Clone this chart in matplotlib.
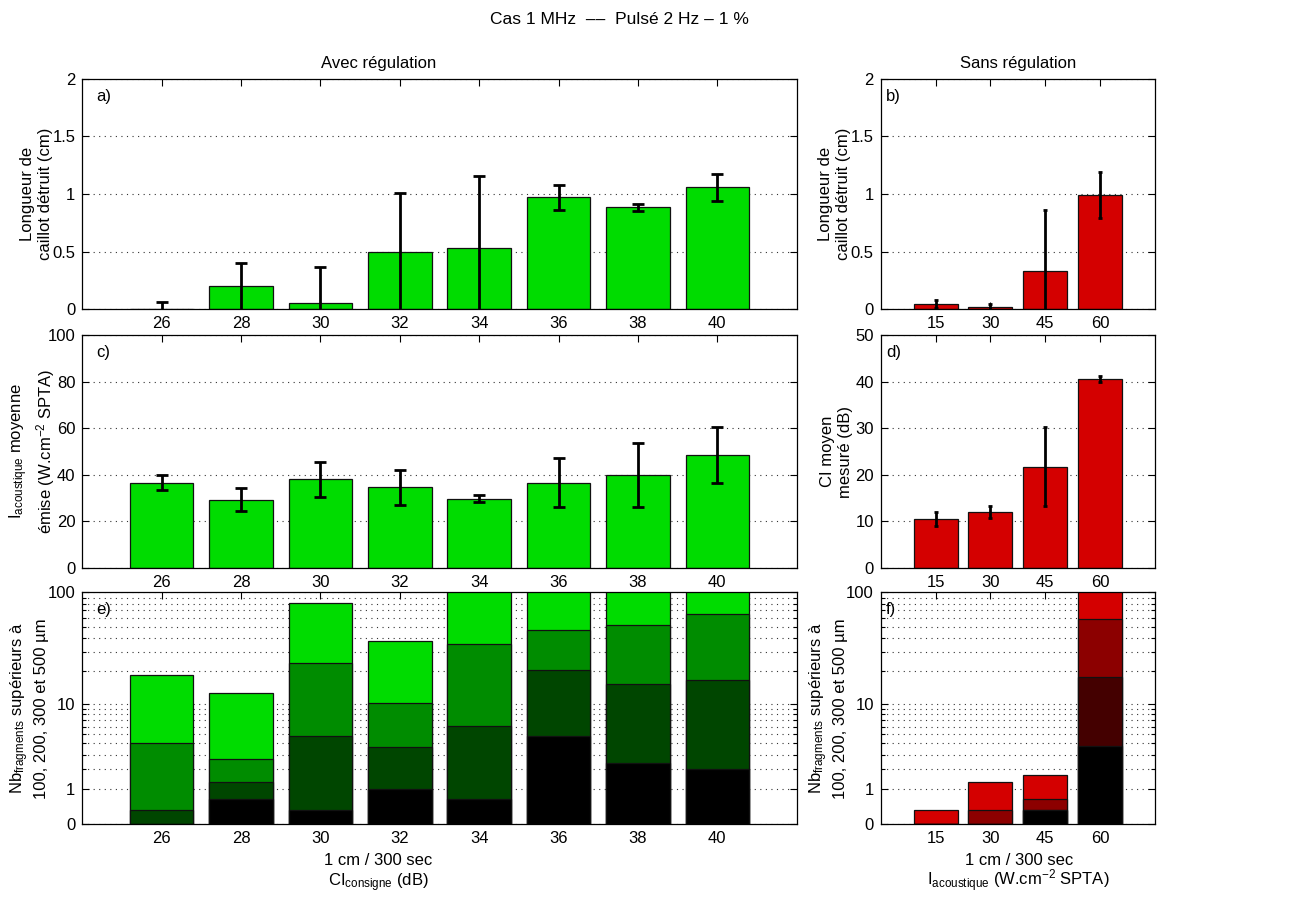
import numpy as np
import matplotlib
matplotlib.use("Agg")
import matplotlib.pyplot as plt
from matplotlib.ticker import FixedLocator, NullFormatter

plt.rcParams['font.family'] = ['Liberation Sans', 'DejaVu Sans']
plt.rcParams['font.size'] = 12
plt.rcParams['mathtext.fontset'] = 'custom'
plt.rcParams['mathtext.rm'] = 'Liberation Sans'
plt.rcParams['mathtext.it'] = 'Liberation Sans'

# --- data ---
ci_consigne = [26, 28, 30, 32, 34, 36, 38, 40]
i_acoustique = [15, 30, 45, 60]

# a) clot length, with regulation
long_avec = [0.0, 0.20, 0.057, 0.50, 0.53, 0.97, 0.885, 1.058]
long_avec_err = [0.06, 0.205, 0.31, 0.51, 0.63, 0.105, 0.03, 0.115]
# b) clot length, without regulation
long_sans = [0.049, 0.02, 0.332, 0.99]
long_sans_err = [0.035, 0.023, 0.527, 0.2]
# c) emitted acoustic intensity
iac_avec = [36.6, 29.3, 38.0, 34.6, 29.7, 36.6, 39.9, 48.6]
iac_avec_err = [3.1, 5.1, 7.6, 7.4, 1.5, 10.6, 13.9, 12.0]
# d) measured CI
ci_sans = [10.5, 11.9, 21.7, 40.6]
ci_sans_err = [1.5, 1.3, 8.5, 0.6]
# e) fragment counts > 100, 200, 300, 500 um
frag_avec_100 = [18.6, 12.7, 80.6, 37.6, 130, 130, 130, 130]
frag_avec_200 = [4.0, 2.64, 23.7, 10.25, 35.1, 46.4, 52.1, 64.6]
frag_avec_300 = [0.33, 1.34, 4.76, 3.69, 6.07, 20.7, 15.4, 16.6]
frag_avec_500 = [0.0, 0.67, 0.33, 1.0, 0.67, 4.8, 2.37, 2.0]
# f)
frag_sans_100 = [0.33, 1.34, 1.67, 130]
frag_sans_200 = [0.0, 0.33, 0.67, 58.4]
frag_sans_300 = [0.0, 0.0, 0.33, 17.9]
frag_sans_500 = [0.0, 0.0, 0.33, 3.73]

greens = ['#00dc00', '#008c00', '#004600', '#000000']
reds = ['#d40000', '#8c0000', '#440000', '#000000']

fig = plt.figure(figsize=(12.94, 9.0), dpi=100)

L = [0.0636, 0.5521]
R = [0.6806, 0.2120]
rows = [(0.6563, 0.2562), (0.3692, 0.2582), (0.0841, 0.2576)]

axes = {}
for r, (b, h) in enumerate(rows):
    axes[(r, 0)] = fig.add_axes([L[0], b, L[1], h])
    axes[(r, 1)] = fig.add_axes([R[0], b, R[1], h])


def style(ax, xt, xlim):
    ax.set_xlim(*xlim)
    ax.set_xticks(xt)
    ax.tick_params(direction='in', top=True, right=True, length=5, width=0.8,
                   labelsize=12, pad=5)
    ax.tick_params(which='minor', direction='in', right=True, length=3, width=0.8)
    ax.set_axisbelow(True)
    ax.yaxis.grid(True, which='major', linestyle=(0, (1, 4)), color='#333333', linewidth=0.8)
    for s in ax.spines.values():
        s.set_linewidth(0.9)
        s.set_zorder(5)


def letter(ax, t):
    ax.text(0.02, 0.925, t, transform=ax.transAxes, va='center', ha='left', fontsize=12)


def ylab(ax, text, xpos):
    ax.set_ylabel(text, linespacing=1.25)
    ax.yaxis.set_label_coords(xpos, 0.5)


# a)
ax = axes[(0, 0)]
ax.bar(ci_consigne, long_avec, width=1.6, color=greens[0], edgecolor='#111111', linewidth=0.9)
ax.errorbar(ci_consigne, long_avec, yerr=long_avec_err, fmt='none', ecolor='k',
            elinewidth=2, capsize=4, capthick=2)
style(ax, ci_consigne, (24, 42))
ax.set_ylim(0, 2)
ax.set_yticks([0, 0.5, 1, 1.5, 2])
ax.set_yticklabels(['0', '0.5', '1', '1.5', '2'])
ylab(ax, 'Longueur de\ncaillot détruit (cm)', -0.041)
ax.set_title('Avec régulation', fontsize=12, pad=8, x=0.4146)
letter(ax, 'a)')

# b)
ax = axes[(0, 1)]
ax.bar(i_acoustique, long_sans, width=12, color=reds[0], edgecolor='#111111', linewidth=0.9)
ax.errorbar(i_acoustique, long_sans, yerr=long_sans_err, fmt='none', ecolor='k',
            elinewidth=2, capsize=1.5, capthick=2)
style(ax, i_acoustique, (0, 75))
ax.set_ylim(0, 2)
ax.set_yticks([0, 0.5, 1, 1.5, 2])
ax.set_yticklabels(['0', '0.5', '1', '1.5', '2'])
ylab(ax, 'Longueur de\ncaillot détruit (cm)', -0.108)
ax.set_title('Sans régulation', fontsize=12, pad=8)
letter(ax, 'b)')

# c)
ax = axes[(1, 0)]
ax.bar(ci_consigne, iac_avec, width=1.6, color=greens[0], edgecolor='#111111', linewidth=0.9)
ax.errorbar(ci_consigne, iac_avec, yerr=iac_avec_err, fmt='none', ecolor='k',
            elinewidth=2, capsize=4, capthick=2)
style(ax, ci_consigne, (24, 42))
ax.set_ylim(0, 100)
ax.set_yticks([0, 20, 40, 60, 80, 100])
ylab(ax, 'I$_{\\mathrm{acoustique}}$ moyenne\némise (W.cm$^{-2}$ SPTA)', -0.035)
letter(ax, 'c)')

# d)
ax = axes[(1, 1)]
ax.bar(i_acoustique, ci_sans, width=12, color=reds[0], edgecolor='#111111', linewidth=0.9)
ax.errorbar(i_acoustique, ci_sans, yerr=ci_sans_err, fmt='none', ecolor='k',
            elinewidth=2, capsize=1.5, capthick=2)
style(ax, i_acoustique, (0, 75))
ax.set_ylim(0, 50)
ax.set_yticks([0, 10, 20, 30, 40, 50])
ylab(ax, 'CI moyen\nmesuré (dB)', -0.1)
letter(ax, 'd)')


def fwd(x):
    return np.log10(1 + np.clip(x, 0, None))


def inv(y):
    return 10 ** y - 1


minor = [2, 3, 4, 5, 6, 7, 8, 9, 20, 30, 40, 50, 60, 70, 80, 90]


def frag_axis(ax, xs, width, series, cols, xt, xlim, xpos):
    for vals, c in zip(series, cols):
        ax.bar(xs, vals, width=width, color=c, edgecolor='#111111', linewidth=0.9)
    ax.set_yscale('function', functions=(fwd, inv))
    style(ax, xt, xlim)
    ax.set_ylim(0, 100)
    ax.yaxis.set_major_locator(FixedLocator([0, 1, 10, 100]))
    ax.set_yticklabels(['0', '1', '10', '100'])
    ax.yaxis.set_minor_locator(FixedLocator(minor))
    ax.yaxis.set_minor_formatter(NullFormatter())
    ax.yaxis.grid(True, which='minor', linestyle=(0, (1, 4)), color='#333333', linewidth=0.8)
    ylab(ax, 'Nb$_{\\mathrm{fragments}}$ supérieurs à\n100, 200, 300 et 500 µm', xpos)


def two_line_xlabel(ax, xc, l1, l2):
    ax.text(xc, -0.176, l1, transform=ax.transAxes, ha='center', va='baseline', fontsize=12)
    ax.text(xc, -0.266, l2, transform=ax.transAxes, ha='center', va='baseline', fontsize=12)


# e)
ax = axes[(2, 0)]
frag_axis(ax, ci_consigne, 1.6,
          [frag_avec_100, frag_avec_200, frag_avec_300, frag_avec_500],
          greens, ci_consigne, (24, 42), -0.047)
two_line_xlabel(ax, 0.4146, '1 cm / 300 sec', 'CI$_{\\mathrm{consigne}}$ (dB)')
letter(ax, 'e)')

# f)
ax = axes[(2, 1)]
frag_axis(ax, i_acoustique, 12,
          [frag_sans_100, frag_sans_200, frag_sans_300, frag_sans_500],
          reds, i_acoustique, (0, 75), -0.119)
two_line_xlabel(ax, 0.503, '1 cm / 300 sec', 'I$_{\\mathrm{acoustique}}$ (W.cm$^{-2}$ SPTA)')
letter(ax, 'f)')

fig.text(0.479, 0.978, 'Cas 1 MHz  \u2013\u2013  Pulsé 2 Hz \u2013 1 %', ha='center', va='center',
         fontsize=12.5)

fig.savefig('out.png', dpi=100)
